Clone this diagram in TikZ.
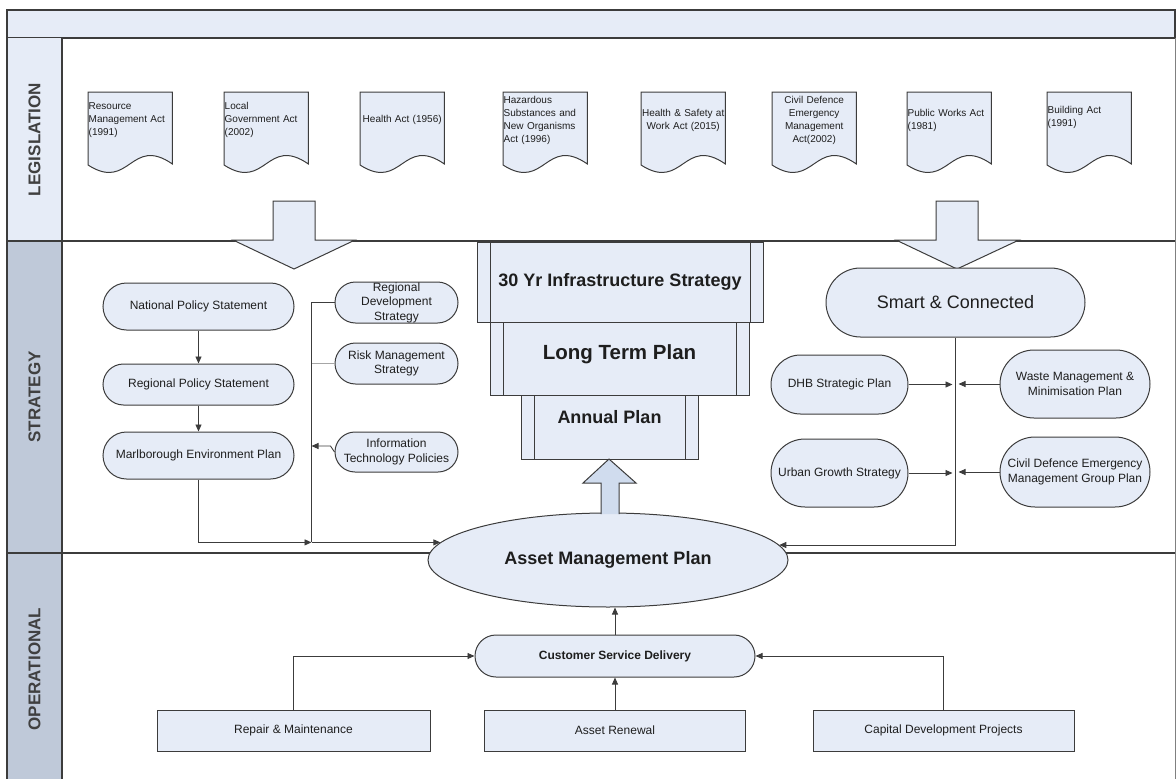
\documentclass[tikz,border=0pt]{standalone}
\usepackage{fontspec}
\setmainfont{Liberation Sans}
\usepackage{tikz}
\usetikzlibrary{arrows.meta,shapes.geometric,backgrounds,calc}
\definecolor{boxfill}{RGB}{230,236,247}
\definecolor{upfill}{RGB}{208,220,238}
\definecolor{lanefill}{RGB}{191,201,217}
\definecolor{linegray}{RGB}{60,60,60}
\definecolor{textgray}{RGB}{30,30,30}
\tikzset{
    flowarrow/.style={
        line width=0.9pt,
        linegray,
        -{Triangle[length=7pt, width=6pt]}
    },
    flowline/.style={line width=0.9pt, linegray},
    laneline/.style={line width=1.6pt, linegray},
    % documents of the legislation lane
    actdoc/.style={
        anchor=north west,
        minimum width=84pt,
        minimum height=56pt,
        inner xsep=0.5pt,
        inner ysep=1.5pt,
        text width=83pt,
        font=\fontsize{10}{13}\selectfont,
        text=textgray
    },
    docline/.style={draw=linegray, line width=1pt, fill=boxfill},
    bubble/.style={
        rectangle,
        rounded corners=#1,
        draw=linegray,
        line width=1pt,
        fill=boxfill,
        inner sep=0pt,
        align=center,
        font=\fontsize{12}{14.5}\selectfont,
        text=textgray
    },
    plainbox/.style={
        rectangle,
        draw=linegray,
        line width=1pt,
        fill=boxfill,
        font=\fontsize{12}{14}\selectfont,
        text=textgray
    },
    predproc/.style={
        rectangle,
        draw=linegray,
        line width=1pt,
        fill=boxfill,
        inner sep=0pt,
        text=textgray,
        path picture={
            \draw[linegray, line width=1pt]
            ([xshift=13pt]path picture bounding box.north west) -- ([xshift=13pt]path picture bounding box.south west)
            ([xshift=-13pt]path picture bounding box.north east) -- ([xshift=-13pt]path picture bounding box.south east);
        }
    },
    blockarrow/.style={draw=linegray, line width=1pt, fill=boxfill, line join=miter},
    lanelabel/.style={rotate=90, font=\bfseries\fontsize{17}{20}\selectfont, text=textgray!85}
}

\begin{document}
\begin{tikzpicture}[x=1pt, y=-1pt]
    \useasboundingbox (0,0) rectangle (1176,779);

    % lanes
    \draw[laneline, fill=boxfill] (7,10) rectangle (1175,38);
    \fill[boxfill] (7,38) rectangle (62,241);
    \fill[lanefill] (7,241) rectangle (62,779);
    \draw[laneline] (7,38) -- (7,779);
    \draw[laneline] (62,38) -- (62,779);
    \draw[line width=0.8pt, gray] (1175,38) -- (1175,779);
    \draw[laneline] (7,241) -- (1175,241);
    \draw[laneline] (7,553) -- (1175,553);

    \node[lanelabel] (leglab) at (34.5,139.5) {LEGISLATION};
    \node[lanelabel] (strlab) at (34.5,397) {STRATEGY};
    \node[lanelabel] (oplab) at (34.5,669) {OPERATIONAL};

    % legislation
    \node[actdoc, align=left] (d1) at (88,92) {Resource\\Management Act\\(1991)};
    \node[actdoc, align=left] (d2) at (224,92) {Local\\Government Act\\(2002)};
    \node[actdoc, align=center] (d3) at (360,92) {Health Act (1956)};
    \node[actdoc, align=left] (d4) at (503,92) {Hazardous\\Substances and\\New Organisms\\Act (1996)};
    \node[actdoc, align=center] (d5) at (641,92) {Health \& Safety at\\Work Act (2015)};
    \node[actdoc, align=center] (d6) at (772,92) {Civil Defence\\Emergency\\Management\\Act(2002)};
    \node[actdoc, align=left] (d7) at (907,92) {Public Works Act\\(1981)};
    \node[actdoc, align=left, minimum height=50pt] (d8) at (1047,92) {Building Act\\(1991)};
    \begin{scope}[on background layer]
        \foreach \i in {1,...,8}
            \draw[docline] (d\i.north west) -- (d\i.north east) -- ([yshift=-72pt]d\i.north east)
                .. controls +(-42,-29) and +(42,27) .. ([yshift=-73pt]d\i.north west) -- cycle;
    \end{scope}

    \draw[blockarrow] (273,201) -- (315,201) -- (315,240) -- (355,240) -- (294,269) -- (233,240) -- (273,240) -- cycle;
    \draw[blockarrow] (936,201) -- (978,201) -- (978,240) -- (1019,240) -- (957,269) -- (896,240) -- (936,240) -- cycle;

    % strategy
    \node[predproc, minimum width=286pt, minimum height=80pt, font=\bfseries\fontsize{18}{21}\selectfont] (iss) at (620,282) {30 Yr Infrastructure Strategy};
    \node[predproc, minimum width=259pt, minimum height=73pt, font=\bfseries\fontsize{20.5}{24}\selectfont, text depth=13pt] (ltp) at (619.5,358.5) {Long Term Plan};
    \node[predproc, minimum width=177pt, minimum height=64pt, font=\bfseries\fontsize{18}{21}\selectfont, text depth=20pt] (anp) at (609.5,427) {Annual Plan};

    \node[bubble=23.5pt, minimum width=191pt, minimum height=47pt] (nps) at (198.5,306.5) {National Policy Statement};
    \node[bubble=20.5pt, minimum width=191pt, minimum height=41pt] (rps) at (198.5,384.5) {Regional Policy Statement};
    \node[bubble=23.5pt, minimum width=191pt, minimum height=47pt] (mep) at (198.5,455.5) {Marlborough Environment Plan};
    \node[bubble=20.5pt, minimum width=123pt, minimum height=41pt] (rds) at (396.5,302.5) {Regional\\Development\\Strategy};
    \node[bubble=20.5pt, minimum width=123pt, minimum height=41pt] (rms) at (396.5,363.5) {Risk Management\\Strategy};
    \node[bubble=20pt, minimum width=123pt, minimum height=40pt] (itp) at (396.5,452) {Information\\Technology Policies};

    \node[bubble=34.5pt, minimum width=259pt, minimum height=69pt, font=\fontsize{18}{21}\selectfont] (sac) at (955.5,302.5) {Smart \& Connected};
    \node[bubble=29.5pt, minimum width=137pt, minimum height=59pt] (dhb) at (839.5,384.5) {DHB Strategic Plan};
    \node[bubble=34pt, minimum width=150pt, minimum height=68pt] (wmm) at (1075,384) {Waste Management \&\\Minimisation Plan};
    \node[bubble=34pt, minimum width=137pt, minimum height=68pt] (ugs) at (839.5,473) {Urban Growth Strategy};
    \node[bubble=35pt, minimum width=150pt, minimum height=70pt] (cde) at (1075,472) {Civil Defence Emergency\\Management Group Plan};

    \node[ellipse, draw=linegray, line width=1pt, fill=boxfill, minimum width=360pt, minimum height=94pt, inner sep=0pt, text=textgray, font=\bfseries\fontsize{18}{21}\selectfont] (amp) at (608,560) {Asset Management Plan};
    \draw[blockarrow, fill=upfill] (601,514) -- (601,483) -- (583,483) -- (609,459) -- (636,483) -- (619,483) -- (619,514);

    % left connectors
    \coordinate (bustop) at ($(rds.west)+(-23,0)$);
    \coordinate (busend) at (bustop |- amp.174);
    \draw[flowarrow] (nps) -- (rps);
    \draw[flowarrow] (rps) -- (mep);
    \draw[flowline] (rds.west) -- (bustop) -- (busend);
    \draw[flowline, draw=gray!70] (rms.west) -- (rms.west -| bustop);
    \draw[flowarrow] (itp.west) -- ++(-4,-6) coordinate (itpk) -- (itpk -| bustop);
    \draw[flowarrow] (mep.south) |- (busend);
    \draw[flowarrow] (busend) -- (amp.174);

    % right connectors
    \draw[flowarrow] (sac.south) |- (amp.5);
    \draw[flowarrow, shorten >=3pt] (dhb) -- (dhb -| sac.south);
    \draw[flowarrow, shorten >=3pt] (wmm) -- (wmm -| sac.south);
    \draw[flowarrow, shorten >=3pt] (ugs) -- (ugs -| sac.south);
    \draw[flowarrow, shorten >=3pt] (cde) -- (cde -| sac.south);

    % operational
    \node[bubble=21pt, minimum width=280pt, minimum height=42pt, font=\bfseries\fontsize{12}{14}\selectfont] (csd) at (615,656) {Customer Service Delivery};
    \node[plainbox, minimum width=273pt, minimum height=41pt] (rm) at (293.5,730.5) {Repair \& Maintenance};
    \node[plainbox, minimum width=261pt, minimum height=41pt] (ar) at (615,730.5) {Asset Renewal};
    \node[plainbox, minimum width=261pt, minimum height=41pt] (cdp) at (943.5,730.5) {Capital Development Projects};

    \draw[flowarrow] (csd.north) -- (csd.north |- amp.south);
    \draw[flowarrow] (ar) -- (csd);
    \draw[flowarrow] (rm.north) |- (csd.west);
    \draw[flowarrow] (cdp.north) |- (csd.east);
\end{tikzpicture}
\end{document}
